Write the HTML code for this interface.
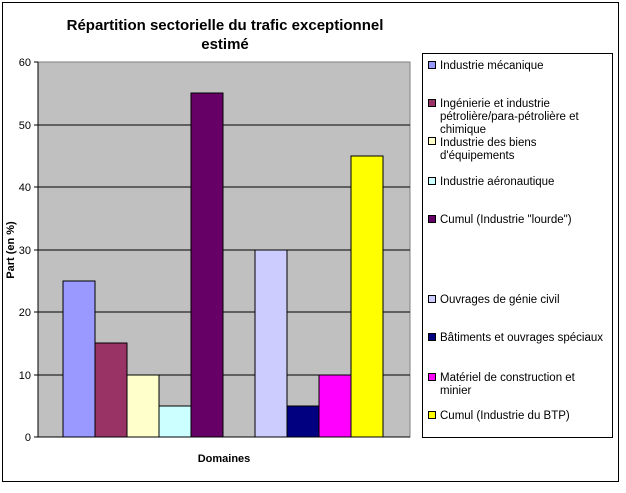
<!DOCTYPE html>
<html><head><meta charset="utf-8"><style>body{margin:0;background:#fff}</style></head><body>
<svg width="626" height="488" xmlns="http://www.w3.org/2000/svg" font-family="Liberation Sans, Arial, sans-serif">
<rect x="0" y="0" width="626" height="488" fill="#fff"/>
<rect x="2.5" y="2.5" width="616" height="479" fill="#fff" stroke="#000"/>
<text x="225" y="30" text-anchor="middle" font-size="15" font-weight="bold">Répartition sectorielle du trafic exceptionnel</text>
<text x="225" y="49" text-anchor="middle" font-size="15" font-weight="bold">estimé</text>
<rect x="38" y="62" width="372" height="375" fill="#c0c0c0" stroke="#808080"/>
<g stroke="#000" stroke-width="1">
<line x1="38" y1="125" x2="410" y2="125"/><line x1="38" y1="187" x2="410" y2="187"/><line x1="38" y1="250" x2="410" y2="250"/><line x1="38" y1="312" x2="410" y2="312"/><line x1="38" y1="375" x2="410" y2="375"/>
<line x1="38" y1="62" x2="38" y2="437"/><line x1="38" y1="437" x2="410" y2="437"/>
<line x1="34" y1="62" x2="38" y2="62"/><line x1="34" y1="125" x2="38" y2="125"/><line x1="34" y1="187" x2="38" y2="187"/><line x1="34" y1="250" x2="38" y2="250"/><line x1="34" y1="312" x2="38" y2="312"/><line x1="34" y1="375" x2="38" y2="375"/><line x1="34" y1="437" x2="38" y2="437"/>
</g>
<g font-size="11" text-anchor="end">
<text x="31" y="66">60</text><text x="31" y="129">50</text><text x="31" y="191">40</text><text x="31" y="254">30</text><text x="31" y="316">20</text><text x="31" y="379">10</text><text x="31" y="441">0</text>
</g>
<text transform="translate(14,250) rotate(-90)" text-anchor="middle" font-size="11" font-weight="bold">Part (en %)</text>
<text x="224" y="462" text-anchor="middle" font-size="11" font-weight="bold">Domaines</text>
<g stroke="#000">
<rect x="63" y="281" width="32" height="156" fill="#9999ff"/>
<rect x="95" y="343" width="32" height="94" fill="#993366"/>
<rect x="127" y="375" width="32" height="62" fill="#ffffcc"/>
<rect x="159" y="406" width="32" height="31" fill="#ccffff"/>
<rect x="191" y="93" width="32" height="344" fill="#660066"/>
<rect x="255" y="250" width="32" height="187" fill="#ccccff"/>
<rect x="287" y="406" width="32" height="31" fill="#000080"/>
<rect x="319" y="375" width="32" height="62" fill="#ff00ff"/>
<rect x="351" y="156" width="32" height="281" fill="#ffff00"/>
</g>
<rect x="422.5" y="53.5" width="190" height="384" fill="#fff" stroke="#000"/>
<g stroke="#000" font-size="11">
<rect x="428.5" y="61.5" width="7" height="7" fill="#9999ff"/>
<rect x="428.5" y="99.5" width="7" height="7" fill="#993366"/>
<rect x="428.5" y="137.5" width="7" height="7" fill="#ffffcc"/>
<rect x="428.5" y="177.5" width="7" height="7" fill="#ccffff"/>
<rect x="428.5" y="215.5" width="7" height="7" fill="#660066"/>
<rect x="428.5" y="295.5" width="7" height="7" fill="#ccccff"/>
<rect x="428.5" y="333.5" width="7" height="7" fill="#000080"/>
<rect x="428.5" y="373.5" width="7" height="7" fill="#ff00ff"/>
<rect x="428.5" y="411.5" width="7" height="7" fill="#ffff00"/>
</g>
<g font-size="11.5" fill="#000">
<text x="440" y="69">Industrie mécanique</text>
<text x="440" y="107">Ingénierie et industrie</text>
<text x="440" y="120">pétrolière/para-pétrolière et</text>
<text x="440" y="133">chimique</text>
<text x="440" y="146">Industrie des biens</text>
<text x="440" y="159">d'équipements</text>
<text x="440" y="185">Industrie aéronautique</text>
<text x="440" y="223">Cumul (Industrie "lourde")</text>
<text x="440" y="303">Ouvrages de génie civil</text>
<text x="440" y="341">Bâtiments et ouvrages spéciaux</text>
<text x="440" y="381">Matériel de construction et</text>
<text x="440" y="394">minier</text>
<text x="440" y="419">Cumul (Industrie du BTP)</text>
</g>
</svg>
</body></html>
